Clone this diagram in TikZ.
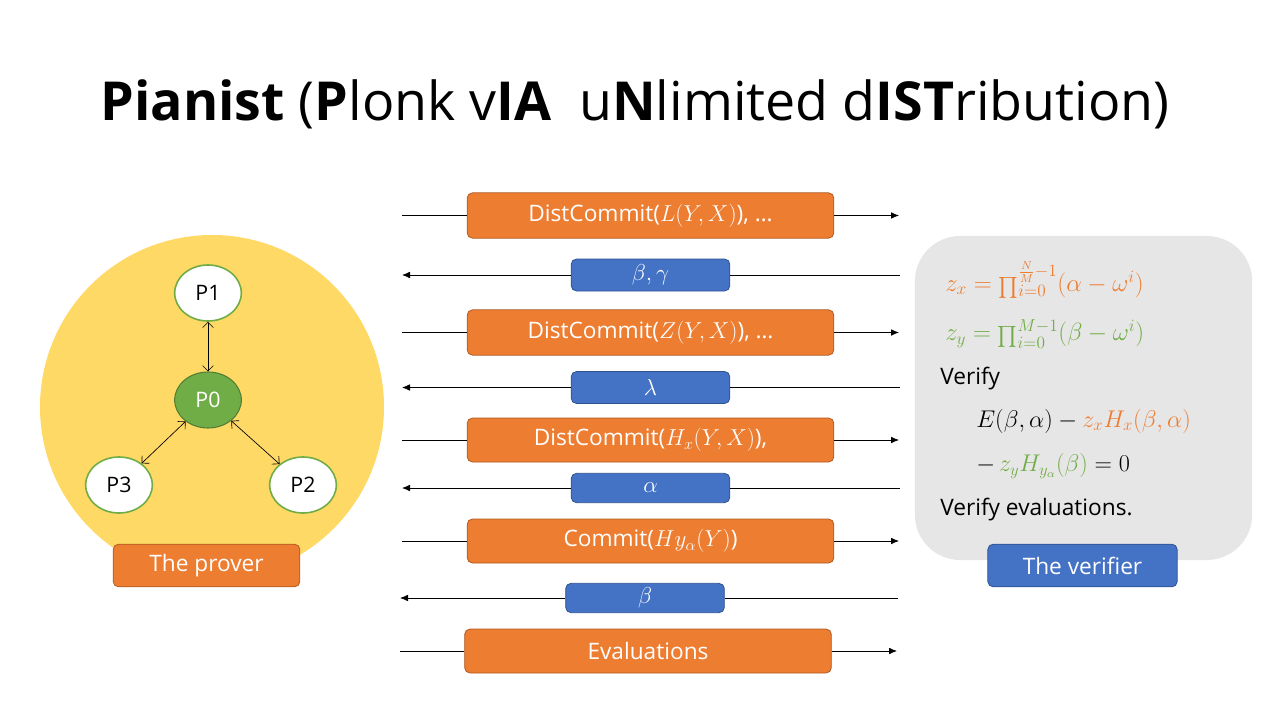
\documentclass[tikz,border=0pt]{standalone}
\usepackage{fontspec}
\usepackage{graphicx}
\setmainfont{Open Sans}
\usetikzlibrary{arrows.meta,shapes.geometric}
\definecolor{ppOrange}{HTML}{ED7D31}
\definecolor{ppOrangeD}{HTML}{AE5A21}
\definecolor{ppBlue}{HTML}{4472C4}
\definecolor{ppBlueD}{HTML}{2F528F}
\definecolor{ppGreen}{HTML}{70AD47}
\definecolor{ppGreenD}{HTML}{507E32}
\definecolor{ppYellow}{HTML}{FFD966}
\definecolor{ppGray}{HTML}{E7E6E6}
% a product sign set a little larger, with its limits at the side
\newcommand{\bigprod}{\mathop{\vphantom{\sum}\raisebox{-0.22em}{\scalebox{1.45}{$\prod$}}}\nolimits}
\tikzset{
  msgbox/.style={draw=ppOrangeD, fill=ppOrange, rounded corners=4pt, text=white,
    font=\fontsize{17}{20}\selectfont, minimum height=34pt, line width=0.6pt},
  chalbox/.style={draw=ppBlueD, fill=ppBlue, rounded corners=4pt, text=white,
    font=\fontsize{17}{20}\selectfont, minimum width=119pt, minimum height=24pt, line width=0.6pt},
  party/.style={ellipse, draw=ppGreen, fill=white, line width=1.2pt, minimum width=50pt,
    minimum height=42pt, inner sep=0pt, font=\fontsize{16}{19}\selectfont},
  flow/.style={line width=0.6pt, -{Latex[length=6pt,width=5pt]}},
  plain/.style={line width=0.6pt},
  dlink/.style={line width=0.5pt, {Straight Barb[length=4pt]}-{Straight Barb[length=4pt]}},
  rowtext/.style={anchor=west, font=\fontsize{17}{20}\selectfont, inner sep=0pt}
}
\begin{document}
\begin{tikzpicture}[x=0.75pt,y=-0.75pt]
\useasboundingbox (0,0) rectangle (1280,720);

% title
\node (title) at (635,104) {\fontsize{40.3}{48}\selectfont
  \textbf{Pianist} (\textbf{P}lonk v\textbf{IA}\ \ u\textbf{N}limited d\textbf{IST}ribution)};

% prover cluster
\fill[ppYellow] (212,407) circle[radius=172];
\node[party] (p1) at (208,293) {P1};
\node[party, fill=ppGreen, draw=ppGreenD, line width=0.8pt, text=white] (p0) at (208,400) {P0};
\node[party] (p3) at (119,485) {P3};
\node[party] (p2) at (303,485) {P2};
\draw[dlink] (p1) -- (p0);
\draw[dlink] (p0) -- (p3);
\draw[dlink] (p0) -- (p2);
\node[msgbox, minimum width=140pt, minimum height=32pt] (prover) at (206.5,565.5) {The prover};

% verifier panel
\node[draw=none, fill=ppGray, rounded corners=34pt, minimum width=253pt, minimum height=243pt]
  (panel) at (1083.5,398) {};
\node[rowtext, text=ppOrange] (zx) at (945,280)
  {\scalebox{1.08}{$z_x=\bigprod_{i=0}^{\frac{N}{M}-1}(\alpha-\omega^i)$}};
\node[rowtext, text=ppGreen] (zy) at (945,334)
  {\scalebox{1.08}{$z_y=\bigprod_{i=0}^{M-1}(\beta-\omega^i)$}};
\node[rowtext] (ver) at (940,379) {Verify};
\node[rowtext] (eq1) at (976,421)
  {\scalebox{1.05}{$E(\beta,\alpha)-\textcolor{ppOrange}{z_xH_x(\beta,\alpha)}$}};
\node[rowtext] (eq2) at (976,466)
  {\scalebox{1.05}{$-\,\textcolor{ppGreen}{z_yH_{y_\alpha}(\beta)}=0$}};
\node[rowtext] (vev) at (940,510) {Verify evaluations.};
\node[chalbox, minimum width=142pt, minimum height=32pt] (verifier) at (1082.5,565.5) {The verifier};

% protocol messages: orange from prover to verifier, blue challenges back
\node[msgbox, minimum width=275pt] (m1) at (650.5,215.5) {DistCommit($L(Y,X)$), …};
\node[chalbox] (c1) at (650.5,275) {$\beta,\gamma$};
\node[msgbox, minimum width=275pt] (m2) at (650.5,332.5) {DistCommit($Z(Y,X)$), …};
\node[chalbox] (c2) at (650.5,387.5) {$\lambda$};
\node[msgbox, minimum width=275pt, minimum height=33pt] (m3) at (650.5,440) {DistCommit($H_x(Y,X)$),};
\node[chalbox, minimum height=22pt] (c3) at (650.5,488) {$\alpha$};
\node[msgbox, minimum width=275pt, minimum height=33pt] (m4) at (650.5,541) {Commit($Hy_\alpha(Y)$)};
\node[chalbox, minimum height=22pt] (c4) at (645,598) {$\beta$};
\node[msgbox, minimum width=275pt, minimum height=33pt] (m5) at (648,651) {Evaluations};

\coordinate (m1l) at (402,215.5); \coordinate (m1r) at (899,215.5);
\coordinate (c1l) at (402,275);   \coordinate (c1r) at (900,275);
\coordinate (m2l) at (402,332.5); \coordinate (m2r) at (899,332.5);
\coordinate (c2l) at (402,387.5); \coordinate (c2r) at (900,387.5);
\coordinate (m3l) at (402,440);   \coordinate (m3r) at (899,440);
\coordinate (c3l) at (402,488);   \coordinate (c3r) at (900,488);
\coordinate (m4l) at (402,541);   \coordinate (m4r) at (899,541);
\coordinate (c4l) at (400,598);   \coordinate (c4r) at (898,598);
\coordinate (m5l) at (400,651);   \coordinate (m5r) at (897,651);

\foreach \m in {m1,m2,m3,m4,m5}{
  \draw[plain] (\m l) -- (\m.west);
  \draw[flow] (\m.east) -- (\m r);
}
\foreach \c in {c1,c2,c3,c4}{
  \draw[plain] (\c r) -- (\c.east);
  \draw[flow] (\c.west) -- (\c l);
}
\end{tikzpicture}
\end{document}
